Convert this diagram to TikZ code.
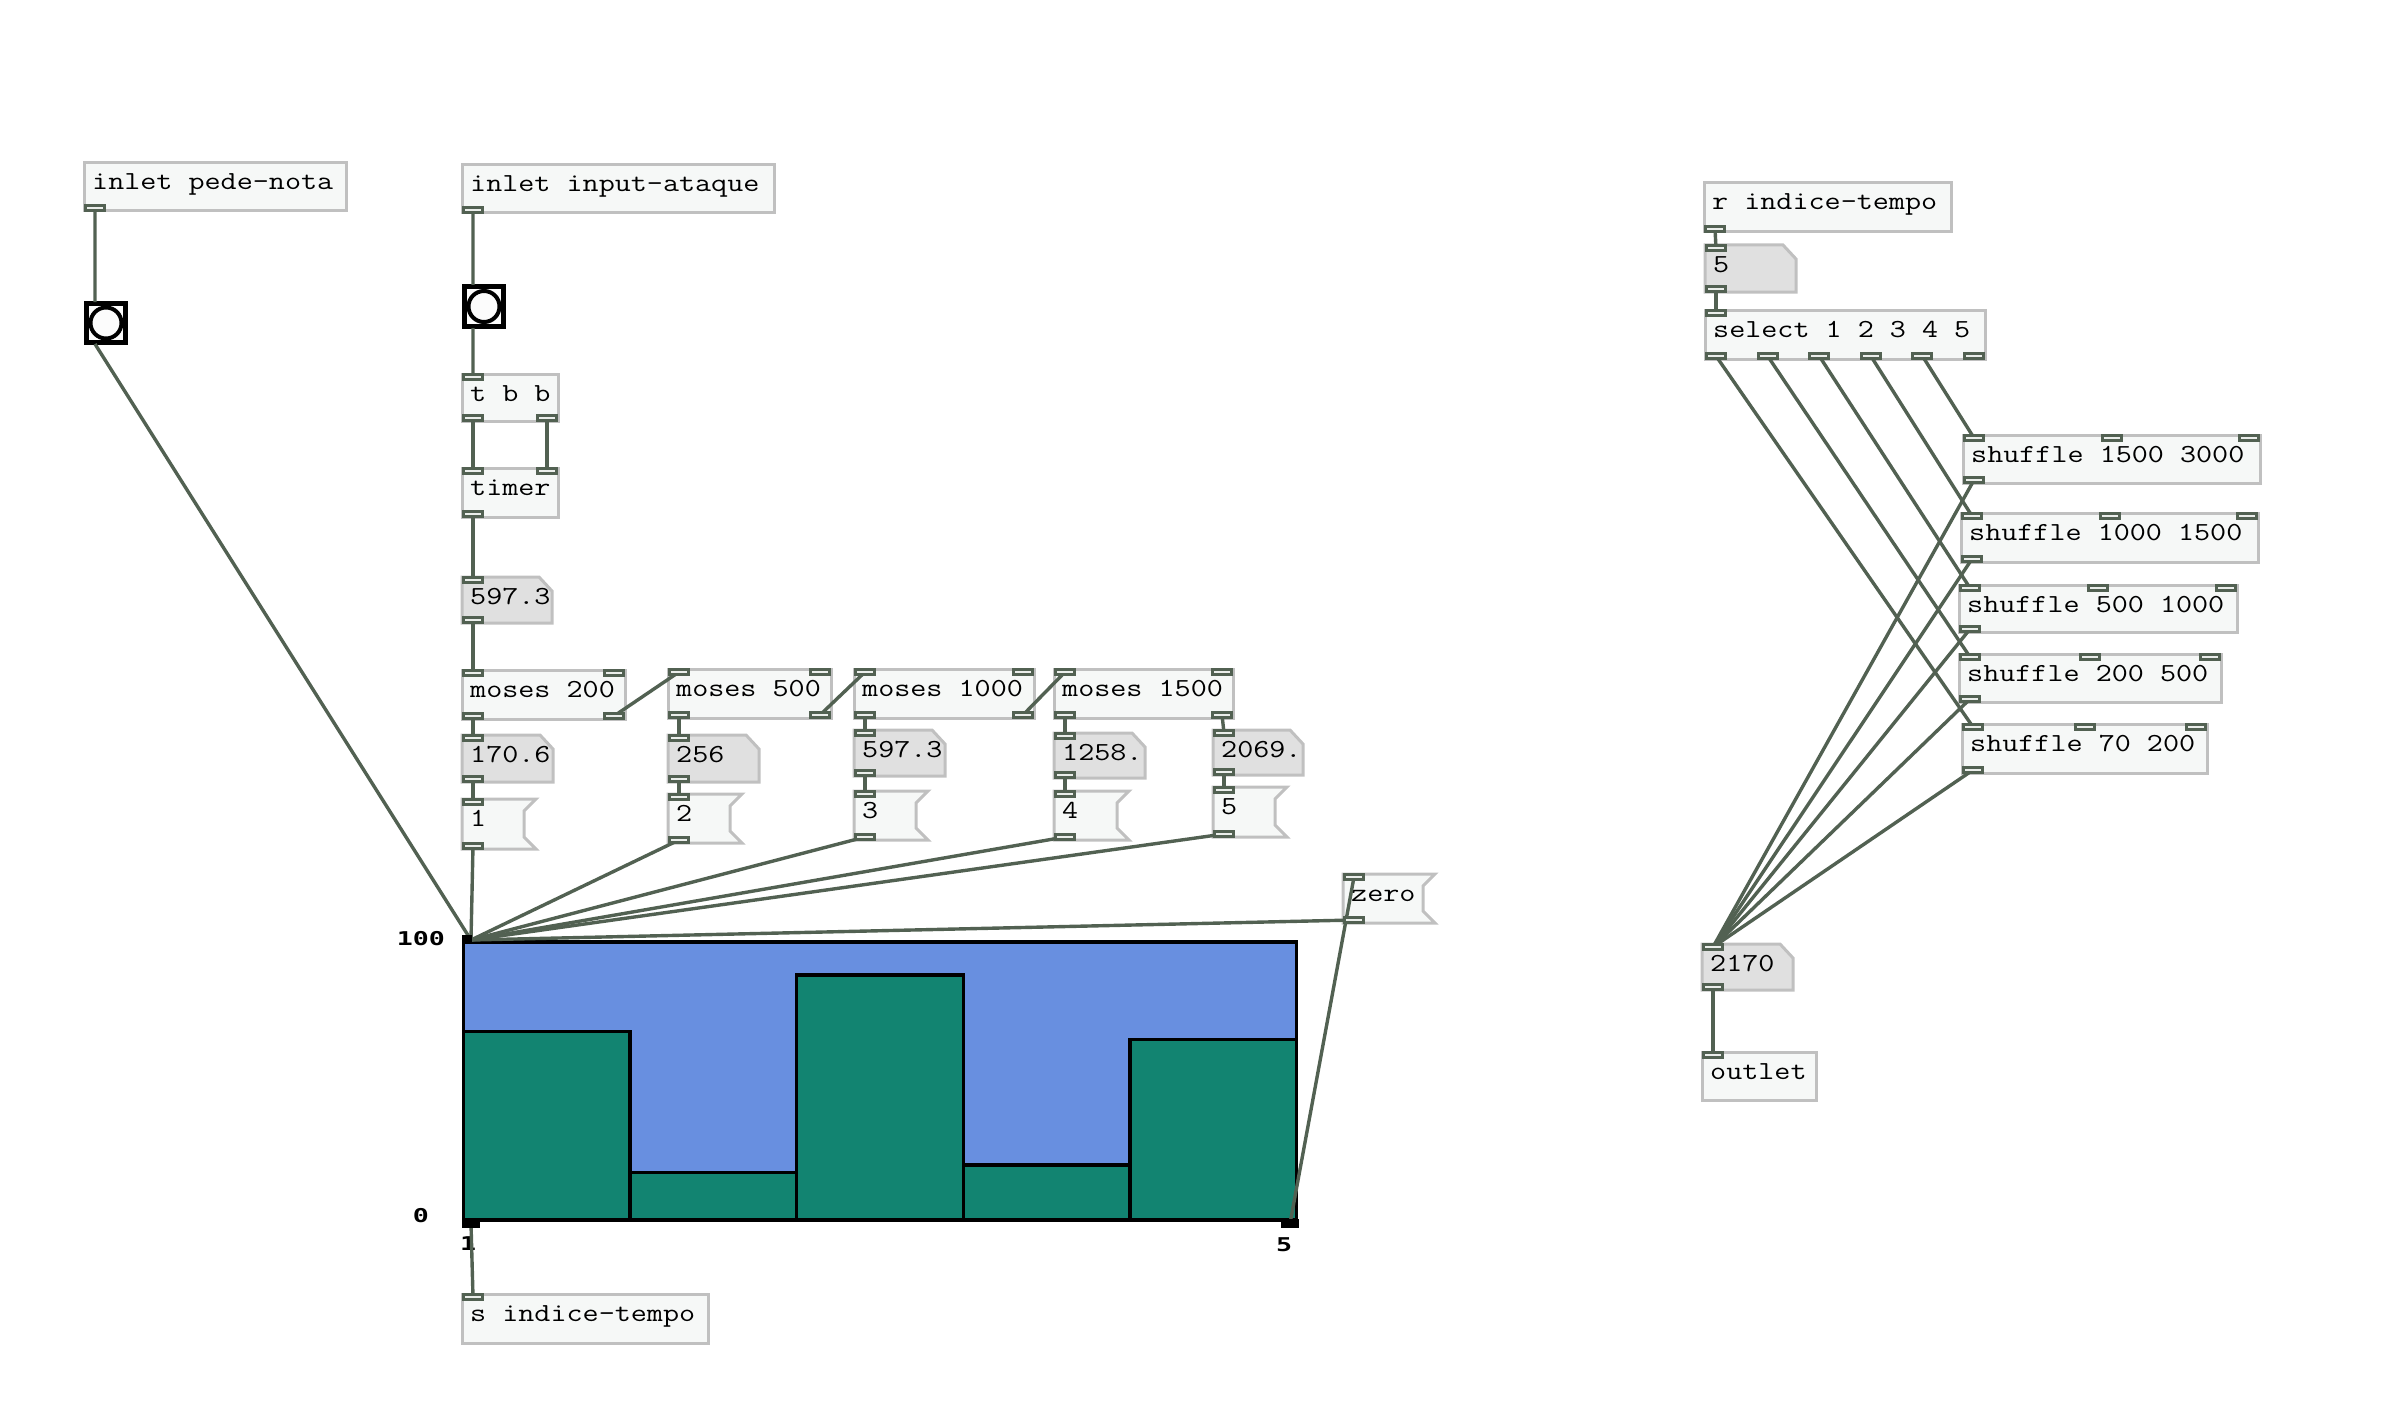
\documentclass[tikz,border=0pt]{standalone}
\usepackage{fontspec}
\newfontfamily\lblfont{DejaVu Sans Mono}
\usetikzlibrary{fit}
\definecolor{wire}{RGB}{82,97,82}
\definecolor{boxline}{RGB}{192,192,192}
\definecolor{boxfill}{RGB}{246,248,247}
\definecolor{numfill}{RGB}{224,224,224}
\definecolor{graphbg}{RGB}{104,143,224}
\definecolor{barfill}{RGB}{18,132,113}
\definecolor{bangfill}{RGB}{252,252,252}
\definecolor{portstripe}{RGB}{235,238,235}
\pgfdeclarelayer{wires}
\pgfdeclarelayer{ports}
\pgfsetlayers{main,wires,ports}
\tikzset{
  pdghost/.style={rectangle,inner sep=0pt,outer sep=0pt,draw=none},
  pdobjline/.style={draw=boxline,line width=3bp,fill=boxfill},
  pdnumline/.style={draw=boxline,line width=3bp,fill=numfill},
  port/.style={rectangle,inner sep=0pt,outer sep=0pt,minimum width=22bp,minimum height=8bp,fill=wire,
    path picture={\draw[portstripe,line width=1.6bp] ([xshift=3bp]path picture bounding box.west) -- ([xshift=-3bp]path picture bounding box.east);}},
  gport/.style={rectangle,inner sep=0pt,outer sep=0pt,minimum width=18bp,minimum height=9bp,fill=black},
  wireline/.style={draw=wire,line width=3.4bp},
  pdtext/.style={inner sep=0pt,anchor=base west,text=black},
  lblnode/.style={inner sep=0pt,text=black},
  barstyle/.style={fill=barfill,draw=black,line width=3.5bp}
}
\newcommand\pdtxt[1]{\scalebox{1.2}[1]{\fontsize{26bp}{30bp}\selectfont\ttfamily #1}}
\newcommand\lbl[1]{\scalebox{1.4}[1]{\lblfont\bfseries\fontsize{19bp}{21bp}\selectfont #1}}
\newcommand\pdports[7]{%
  \begin{pgfonlayer}{ports}%
  \ifnum#6>0
    \foreach \k in {1,...,#6}{%
      \ifnum#6=1 \pgfmathsetmacro\px{#2}\else\pgfmathsetmacro\px{#2+(\k-1)*(#4-#2-22)/(#6-1)}\fi
      \node[port,anchor=north west] (#1-i\k) at (\px,#3-1) {};
    }%
  \fi
  \ifnum#7>0
    \foreach \k in {1,...,#7}{%
      \ifnum#7=1 \pgfmathsetmacro\px{#2}\else\pgfmathsetmacro\px{#2+(\k-1)*(#4-#2-22)/(#7-1)}\fi
      \node[port,anchor=south west] (#1-o\k) at (\px,#5+1) {};
    }%
  \fi
  \end{pgfonlayer}}
\newcommand\pdframe[5]{%
  \path (#2,#3) coordinate (#1-nw) (#4,#5) coordinate (#1-se);
  \node[pdghost,fit=(#1-nw)(#1-se)] (#1) {};}
\newcommand\pdlabel[2]{\node[pdtext] (#1-t) at ([xshift=8bp,yshift=-27bp]#1.north west) {\pdtxt{#2}};}
\newcommand\pdobj[8]{%
  \pdframe{#1}{#2}{#3}{#4}{#5}
  \draw[pdobjline] (#1.north west) rectangle (#1.south east);
  \pdlabel{#1}{#6}
  \pdports{#1}{#2}{#3}{#4}{#5}{#7}{#8}}
\newcommand\pdnum[6]{%
  \pdframe{#1}{#2}{#3}{#4}{#5}
  \draw[pdnumline] (#1.north west) -- ([xshift=-13bp]#1.north east) -- ([yshift=-14bp]#1.north east) -- (#1.south east) -- (#1.south west) -- cycle;
  \pdlabel{#1}{#6}
  \pdports{#1}{#2}{#3}{#4}{#5}{1}{1}}
\newcommand\pdmsg[6]{%
  \pdframe{#1}{#2}{#3}{#4}{#5}
  \draw[pdobjline] (#1.north west) -- (#1.north east) -- ([xshift=-12bp,yshift=-12bp]#1.north east) -- ([xshift=-12bp,yshift=12bp]#1.south east) -- (#1.south east) -- (#1.south west) -- cycle;
  \pdlabel{#1}{#6}
  \pdports{#1}{#2}{#3}{#4}{#5}{1}{1}}
\newcommand\pdbang[5]{%
  \pdframe{#1}{#2}{#3}{#4}{#5}
  \draw[black,line width=5bp,fill=bangfill] ([xshift=2.5bp,yshift=-2.5bp]#1.north west) rectangle ([xshift=-2.5bp,yshift=2.5bp]#1.south east);
  \draw[black,line width=4bp,fill=bangfill] (#1.center) circle (15.5bp);
  \path (#2+11,#3+1) coordinate (#1-in) (#2+11,#5-1) coordinate (#1-out);}
\begin{document}
\begin{tikzpicture}[x=1bp,y=-1bp]
\useasboundingbox (0,0) rectangle (2381,1403);
% left column
\pdobj{pn}{84}{163}{346}{211}{inlet pede-nota}{0}{1}
\pdbang{b1}{84}{301}{128}{345}
\pdobj{ia}{462}{165}{774}{213}{inlet input-ataque}{0}{1}
\pdbang{b2}{462}{284}{506}{329}
\pdobj{tbb}{462}{374}{558}{421}{t b b}{1}{2}
\pdobj{timer}{462}{468}{558}{517}{timer}{2}{1}
\pdnum{n1}{462}{577}{552}{623}{597.3}
\pdobj{m200}{462}{670}{625}{719}{moses 200}{2}{2}
\pdobj{m500}{668}{669}{831}{718}{moses 500}{2}{2}
\pdobj{m1000}{854}{669}{1034}{718}{moses 1000}{2}{2}
\pdobj{m1500}{1054}{669}{1233}{718}{moses 1500}{2}{2}
\pdnum{n2}{462}{735}{553}{782}{170.6}
\pdnum{n3}{668}{735}{759}{782}{256}
\pdnum{n4}{854}{730}{945}{776}{597.3}
\pdnum{n5}{1054}{733}{1145}{778}{1258.}
\pdnum{n6}{1213}{730}{1303}{775}{2069.}
\pdmsg{g1}{462}{799}{536}{849}{1}
\pdmsg{g2}{668}{794}{742}{843}{2}
\pdmsg{g3}{854}{791}{928}{840}{3}
\pdmsg{g4}{1054}{791}{1129}{840}{4}
\pdmsg{g5}{1213}{787}{1287}{837}{5}
\pdmsg{zero}{1343}{874}{1435}{923}{zero}
\pdobj{sit}{462}{1294}{708}{1343}{s indice-tempo}{1}{0}
% graph
\path (463.3,942) coordinate (graph-nw) (1296.7,1220) coordinate (graph-se);
\node[pdghost,fit=(graph-nw)(graph-se)] (graph) {};
\fill[graphbg] (graph.north west) rectangle (graph.south east);
\foreach \i/\t in {0/1031.7,1/1172.7,2/975,3/1165,4/1039.5}{
  \draw[barstyle] ({463.3+\i*166.68},\t) rectangle ({463.3+(\i+1)*166.68},1220);
}
\draw[black,line width=3.5bp] (graph.north west) rectangle (graph.south east);
\begin{pgfonlayer}{ports}
\node[gport,anchor=north west,minimum width=10bp,minimum height=8bp] (gi) at (462,935) {};
\node[gport,anchor=north west] (go1) at (462,1219) {};
\node[gport,anchor=north west] (go2) at (1281,1219) {};
\end{pgfonlayer}
\coordinate (gin) at (471,940);
\node[lblnode,anchor=east] (l100) at (445,938.5) {\lbl{100}};
\node[lblnode] (l0) at (421,1216) {\lbl{0}};
\node[lblnode,anchor=west] (l1) at (460,1244) {\lbl{1}};
\node[lblnode] (l5) at (1284,1245) {\lbl{5}};
% right column
\pdobj{rit}{1704}{183}{1951}{232}{r indice-tempo}{0}{1}
\pdnum{n7}{1705}{245}{1796}{292}{5}
\pdobj{sel}{1705}{310}{1985}{359}{select 1 2 3 4 5}{1}{6}
\pdobj{sh1}{1963}{435}{2260}{483}{shuffle 1500 3000}{3}{1}
\pdobj{sh2}{1961}{513}{2258}{562}{shuffle 1000 1500}{3}{1}
\pdobj{sh3}{1959}{585}{2237}{632}{shuffle 500 1000}{3}{1}
\pdobj{sh4}{1959}{654}{2221}{702}{shuffle 200 500}{3}{1}
\pdobj{sh5}{1962}{724}{2207}{773}{shuffle 70 200}{3}{1}
\pdnum{n8}{1702}{944}{1793}{990}{2170}
\pdobj{outl}{1702}{1052}{1816}{1100}{outlet}{1}{0}
% wires
\begin{pgfonlayer}{wires}
\draw[wireline] (pn-o1.center) -- (b1-in);
\draw[wireline] (b1-out) -- (gin);
\draw[wireline] (ia-o1.center) -- (b2-in);
\draw[wireline] (b2-out) -- (tbb-i1.center);
\draw[wireline] (tbb-o1.center) -- (timer-i1.center);
\draw[wireline] (tbb-o2.center) -- (timer-i2.center);
\draw[wireline] (timer-o1.center) -- (n1-i1.center);
\draw[wireline] (n1-o1.center) -- (m200-i1.center);
\draw[wireline] (m200-o1.center) -- (n2-i1.center);
\draw[wireline] (m200-o2.center) -- (m500-i1.center);
\draw[wireline] (m500-o1.center) -- (n3-i1.center);
\draw[wireline] (m500-o2.center) -- (m1000-i1.center);
\draw[wireline] (m1000-o1.center) -- (n4-i1.center);
\draw[wireline] (m1000-o2.center) -- (m1500-i1.center);
\draw[wireline] (m1500-o1.center) -- (n5-i1.center);
\draw[wireline] (m1500-o2.center) -- (n6-i1.center);
\draw[wireline] (n2-o1.center) -- (g1-i1.center);
\draw[wireline] (n3-o1.center) -- (g2-i1.center);
\draw[wireline] (n4-o1.center) -- (g3-i1.center);
\draw[wireline] (n5-o1.center) -- (g4-i1.center);
\draw[wireline] (n6-o1.center) -- (g5-i1.center);
\draw[wireline] (g1-o1.center) -- (gin);
\draw[wireline] (g2-o1.center) -- (gin);
\draw[wireline] (g3-o1.center) -- (gin);
\draw[wireline] (g4-o1.center) -- (gin);
\draw[wireline] (g5-o1.center) -- (gin);
\draw[wireline] (zero-o1.center) -- (gin);
\draw[wireline] (go2.center) -- (zero-i1.center);
\draw[wireline] (go1.center) -- (sit-i1.center);
\draw[wireline] (rit-o1.center) -- (n7-i1.center);
\draw[wireline] (n7-o1.center) -- (sel-i1.center);
\draw[wireline] (sel-o1.center) -- (sh5-i1.center);
\draw[wireline] (sel-o2.center) -- (sh4-i1.center);
\draw[wireline] (sel-o3.center) -- (sh3-i1.center);
\draw[wireline] (sel-o4.center) -- (sh2-i1.center);
\draw[wireline] (sel-o5.center) -- (sh1-i1.center);
\draw[wireline] (sh1-o1.center) -- (n8-i1.center);
\draw[wireline] (sh2-o1.center) -- (n8-i1.center);
\draw[wireline] (sh3-o1.center) -- (n8-i1.center);
\draw[wireline] (sh4-o1.center) -- (n8-i1.center);
\draw[wireline] (sh5-o1.center) -- (n8-i1.center);
\draw[wireline] (n8-o1.center) -- (outl-i1.center);
\end{pgfonlayer}
\end{tikzpicture}
\end{document}
